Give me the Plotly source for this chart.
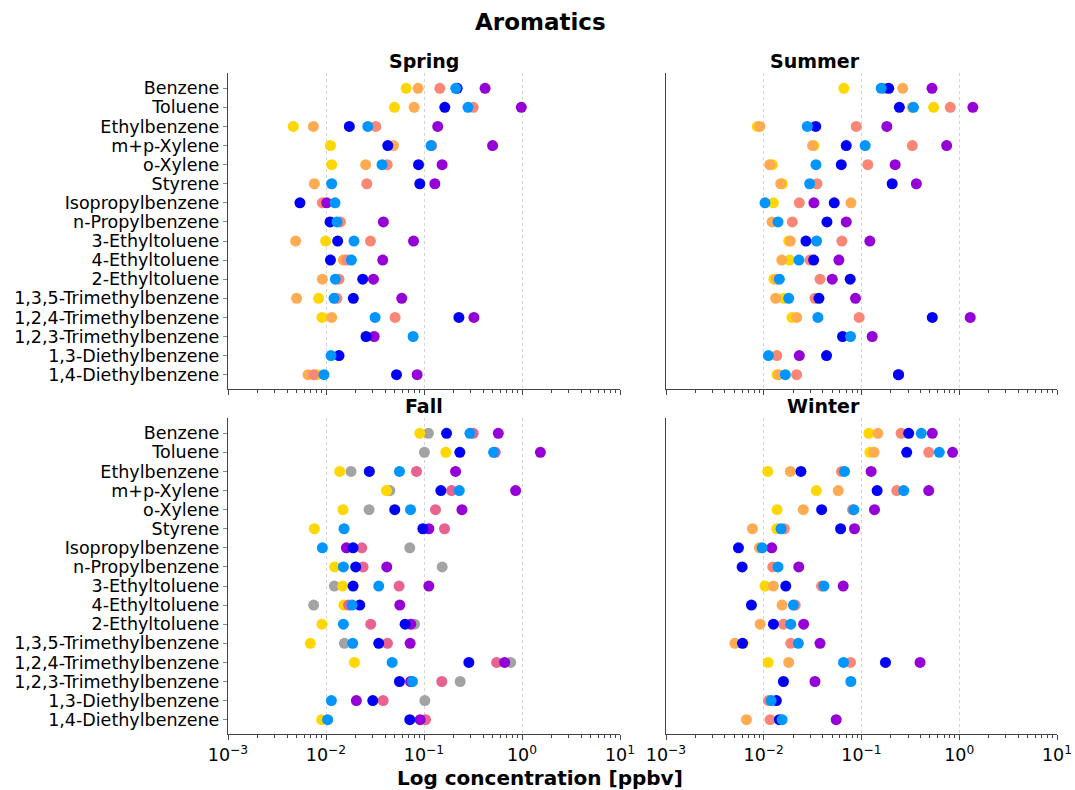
import plotly.graph_objects as go

# Compounds, top to bottom
COMPOUNDS = [
    "Benzene", "Toluene", "Ethylbenzene", "m+p-Xylene", "o-Xylene", "Styrene",
    "Isopropylbenzene", "n-Propylbenzene", "3-Ethyltoluene", "4-Ethyltoluene",
    "2-Ethyltoluene", "1,3,5-Trimethylbenzene", "1,2,4-Trimethylbenzene",
    "1,2,3-Trimethylbenzene", "1,3-Diethylbenzene", "1,4-Diethylbenzene",
]

# Concentrations [ppbv] per season and site (None = not measured)
SPRING = {
    "Site A": [0.0658, 0.0499, 0.00463, 0.0111, 0.01143, None, None, None, 0.00992, None, None, 0.00841, 0.0091, None, None, 0.00815],
    "Site B": [0.087, 0.0792, 0.00743, 0.0488, 0.0254, 0.0076, None, None, 0.0049, 0.01503, 0.00918, 0.00501, 0.01143, None, None, 0.00655],
    "Site C": [0.145, 0.318, 0.0322, 0.12, 0.0421, 0.0261, 0.00918, 0.01401, 0.0284, 0.0164, 0.01358, 0.01295, 0.0507, None, None, 0.00748],
    "Site F": [0.42, 0.984, 0.138, 0.501, 0.153, 0.129, 0.01016, 0.0385, 0.0782, 0.0379, 0.0305, 0.0593, 0.323, 0.031, None, 0.0851],
    "Site G": [0.218, 0.163, 0.0173, 0.0427, 0.0879, 0.0906, 0.00542, 0.01099, 0.01316, 0.0111, 0.0237, 0.019, 0.227, 0.0256, 0.01358, 0.0524],
    "Site H": [0.211, 0.281, 0.0267, 0.118, 0.0373, 0.01143, 0.01236, 0.01295, 0.0193, 0.01815, 0.01245, 0.01208, 0.0317, 0.0774, 0.01125, 0.00954],
}
SUMMER = {
    "Site A": [0.066, 0.547, 0.0086, 0.0326, 0.01225, 0.0155, 0.01255, None, 0.018, 0.0184, 0.0127, 0.0161, 0.01945, None, None, 0.01368],
    "Site B": [0.264, 0.33, 0.0091, 0.0316, 0.01151, 0.0149, 0.0779, 0.01216, 0.0187, 0.01527, 0.0135, 0.01325, 0.0217, None, None, 0.01422],
    "Site C": [0.173, 0.809, 0.0883, 0.331, 0.116, 0.035, 0.0231, 0.0196, 0.063, 0.0297, 0.0376, 0.0334, 0.0946, None, 0.0136, 0.0217],
    "Site F": [0.526, 1.378, 0.1816, 0.743, 0.221, 0.364, 0.0326, 0.0698, 0.1217, 0.0587, 0.0502, 0.0868, 1.295, 0.1285, 0.0231, 0.24],
    "Site G": [0.19, 0.244, 0.034, 0.0698, 0.0621, 0.206, 0.0526, 0.0443, 0.027, 0.0324, 0.0766, 0.0367, 0.53, 0.064, 0.0439, 0.2385],
    "Site H": [0.159, 0.34, 0.0279, 0.109, 0.0342, 0.0295, 0.0103, 0.014, 0.0347, 0.0229, 0.01445, 0.018, 0.0358, 0.0772, 0.01116, 0.01663],
}
FALL = {
    "Site E": [0.111, 0.101, 0.018, 0.0448, 0.0275, None, 0.0716, 0.1534, 0.01217, 0.00748, 0.08, 0.0154, 0.766, 0.234, 0.102, None],
    "Site A": [0.0906, 0.167, 0.0138, 0.0414, 0.0149, 0.0076, None, 0.01227, 0.0148, 0.0152, 0.0091, 0.00692, 0.0195, None, None, 0.00903],
    "Site D": [0.318, 0.534, 0.0838, 0.191, 0.131, 0.162, 0.0232, 0.0239, 0.0557, 0.017, 0.0286, 0.0424, 0.551, 0.152, 0.0383, 0.1036],
    "Site F": [0.573, 1.54, 0.21, 0.861, 0.244, 0.112, 0.01614, 0.0417, 0.112, 0.0566, 0.0733, 0.0722, 0.665, 0.073, 0.0204, 0.0914],
    "Site G": [0.17, 0.232, 0.0277, 0.1486, 0.0503, 0.0973, 0.0189, 0.0201, 0.0189, 0.0221, 0.0642, 0.0345, 0.287, 0.0562, 0.03, 0.0716],
    "Site H": [0.294, 0.513, 0.0562, 0.229, 0.0728, 0.01528, 0.00918, 0.01504, 0.0345, 0.01845, 0.01504, 0.01874, 0.0473, 0.0763, 0.01134, 0.0104],
}
WINTER = {
    "Site A": [0.1188, 0.1217, 0.011, 0.0345, 0.01368, 0.01358, None, None, 0.0103, None, None, 0.0062, 0.0111, None, None, None],
    "Site B": [0.147, 0.1346, 0.0187, 0.0578, 0.0254, 0.00766, 0.00903, None, 0.01255, 0.0154, 0.00918, 0.00506, 0.018, None, None, 0.00665],
    "Site C": [0.254, 0.487, 0.0625, 0.2294, 0.081, 0.01625, None, 0.01236, 0.039, 0.021, 0.0159, 0.0189, 0.0772, None, 0.01116, 0.0116],
    "Site F": [0.53, 0.855, 0.1255, 0.487, 0.1358, 0.0848, 0.01207, 0.0228, 0.065, None, 0.0256, 0.0376, 0.397, 0.0334, None, 0.0551],
    "Site G": [0.304, 0.29, 0.024, 0.1445, 0.0391, 0.0611, 0.00551, 0.00601, 0.0168, 0.00748, 0.01255, 0.00606, 0.176, 0.0159, 0.01346, 0.01445],
    "Site H": [0.409, 0.625, 0.0671, 0.2705, 0.0835, 0.01503, 0.00962, 0.014, 0.0413, 0.0201, 0.0189, 0.0226, 0.0655, 0.0778, 0.01188, 0.0154],
}

SITE_COLORS = {
    "Site E": "#a3a3a3",
    "Site A": "#ffd700",
    "Site B": "#ffab52",
    "Site C": "#fa8775",
    "Site D": "#e8638f",
    "Site F": "#9500d6",
    "Site G": "#0000f5",
    "Site H": "#0095ff",
}

SEASONS = [("Spring", SPRING), ("Summer", SUMMER), ("Fall", FALL), ("Winter", WINTER)]
XTICKS = [1e-3, 1e-2, 1e-1, 1e0, 1e1]
XTICKTEXT = ["10<sup>\u22123</sup>", "10<sup>\u22122</sup>", "10<sup>\u22121</sup>",
             "10<sup>0</sup>", "10<sup>1</sup>"]

FONT = "DejaVu Sans"
W, H = 1075, 790

# panel boxes in pixels: (left, right, top, bottom)
PANELS = [(228, 620, 73, 389), (666, 1057, 73, 389),
          (228, 620, 418, 734), (666, 1057, 418, 734)]

minor_vals = [m * 10 ** e for e in range(-3, 1) for m in range(2, 10)]

fig = go.Figure()

for i, (season, data) in enumerate(SEASONS):
    sfx = "" if i == 0 else str(i + 1)
    for site, vals in data.items():
        fig.add_trace(go.Scatter(
            x=vals, y=COMPOUNDS, mode="markers", name=site,
            marker=dict(size=11, color=SITE_COLORS[site], line=dict(width=0)),
            xaxis="x" + sfx, yaxis="y" + sfx, showlegend=False,
        ))

    l, r, t, b = PANELS[i]
    bottom_row = i >= 2
    left_col = i % 2 == 0
    fig.layout["xaxis" + sfx] = dict(
        type="log", range=[-3, 1], domain=[l / W, r / W], anchor="y" + sfx,
        automargin=False,
        tickvals=XTICKS, ticktext=XTICKTEXT, showticklabels=bottom_row,
        ticks="outside", ticklen=5, tickwidth=1, tickcolor="#444",
        tickfont=dict(family=FONT, size=17.5, color="black"),
        showline=True, linecolor="#444", linewidth=1.3,
        showgrid=True, gridcolor="#d4d4d4", griddash="dot", gridwidth=1,
        zeroline=False,
        minor=dict(ticks="outside", ticklen=3, tickcolor="#444", tickvals=minor_vals,
                   showgrid=False),
    )
    fig.layout["yaxis" + sfx] = dict(
        type="category", categoryorder="array", categoryarray=COMPOUNDS,
        tickmode="array", tickvals=COMPOUNDS, ticktext=COMPOUNDS,
        range=[15.75, -0.8], domain=[1 - b / H, 1 - t / H], anchor="x" + sfx,
        automargin=False,
        showticklabels=left_col, ticks="outside" if left_col else "",
        ticklen=4, tickcolor="#888",
        tickfont=dict(family=FONT, size=17.5, color="black"),
        showline=True, linecolor="#444", linewidth=1.3,
        showgrid=False, zeroline=False,
    )
    fig.add_annotation(
        text="<b>%s</b>" % season, x=(l + r) / 2 / W, y=1 - (t - 12) / H,
        xref="paper", yref="paper", showarrow=False, yanchor="middle",
        font=dict(family=FONT, size=19, color="black"),
    )

fig.add_annotation(
    text="<b>Aromatics</b>", x=540 / W, y=1 - 22 / H, xref="paper", yref="paper",
    showarrow=False, yanchor="middle", font=dict(family=FONT, size=23, color="black"),
)
fig.add_annotation(
    text="<b>Log concentration [ppbv]</b>", x=540 / W, y=1 - 778 / H,
    xref="paper", yref="paper", showarrow=False, yanchor="middle",
    font=dict(family=FONT, size=20, color="black"),
)

fig.update_layout(
    width=W, height=H, margin=dict(l=0, r=0, t=0, b=0),
    paper_bgcolor="white", plot_bgcolor="white",
    font=dict(family=FONT),
)

fig.write_html("out.html")
